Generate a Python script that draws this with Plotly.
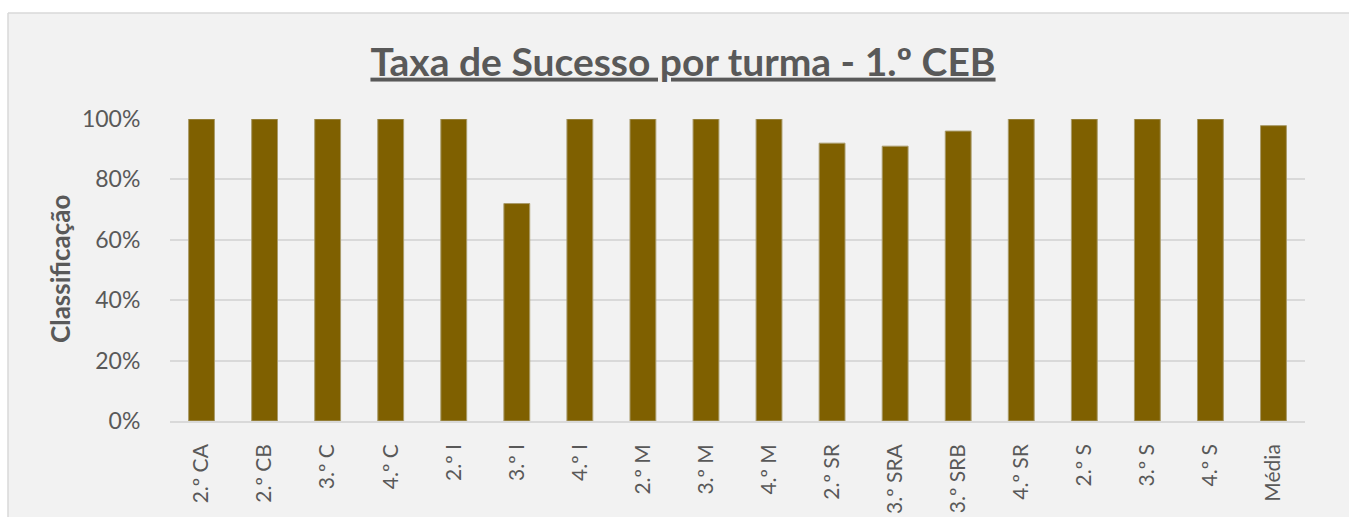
import plotly.graph_objects as go

categories = ["2.º CA", "2.º CB", "3.º C", "4.º C", "2.º I", "3.º I", "4.º I",
              "2.º M", "3.º M", "4.º M", "2.º SR", "3.º SRA", "3.º SRB", "4.º SR",
              "2.º S", "3.º S", "4.º S", "Média"]
values = [1.00, 1.00, 1.00, 1.00, 1.00, 0.72, 1.00, 1.00, 1.00, 1.00,
          0.92, 0.91, 0.96, 1.00, 1.00, 1.00, 1.00, 0.978]
y_ticks = [0, 0.2, 0.4, 0.6, 0.8, 1.0]
y_tick_labels = ["0%", "20%", "40%", "60%", "80%", "100%"]

W, H = 1349, 517
L, R, T, B = 170, 44, 119, 96
pw, ph = W - L - R, H - T - B

FONT = "Lato"
GRAY = "#595959"
BORDER = "#D9D9D9"

fig = go.Figure(go.Bar(
    x=categories, y=values,
    marker=dict(color="#7F6000", line=dict(color="#A99B6A", width=1)),
    width=0.41,
))

fx0 = (8 - L) / pw
fx1 = (W + 30 - L) / pw
fy0 = -(B + 10) / ph
fy1 = 1 + (T - 13) / ph

fig.update_layout(
    width=W, height=H,
    margin=dict(l=L, r=R, t=T, b=B, autoexpand=False),
    paper_bgcolor="white",
    plot_bgcolor="rgba(0,0,0,0)",
    showlegend=False,
    title=dict(
        text="<b>Taxa de Sucesso por turma - 1.º CEB</b>",
        x=683 / W, xanchor="center",
        y=1 - 62 / H, yanchor="middle",
        xref="container", yref="container",
        font=dict(family=FONT, size=39, color=GRAY, lineposition="under"),
    ),
    xaxis=dict(
        tickangle=-90,
        tickfont=dict(family=FONT, size=21, color=GRAY),
        showgrid=False,
        showline=True, linecolor=BORDER, linewidth=1.5,
        ticks="outside", ticklen=13, tickcolor="rgba(0,0,0,0)",
        range=[-0.5, len(categories) - 0.5],
        fixedrange=True,
    ),
    yaxis=dict(
        range=[0, 1.0], autorange=False,
        tickvals=y_ticks, ticktext=y_tick_labels,
        tickfont=dict(family=FONT, size=23, color=GRAY),
        showgrid=True, gridcolor=BORDER, gridwidth=1.5,
        zeroline=False,
        ticks="outside", ticklen=24, tickcolor="rgba(0,0,0,0)",
        fixedrange=True,
    ),
    shapes=[
        dict(type="rect", xref="paper", yref="paper", layer="below",
             x0=fx0, x1=fx1, y0=fy0, y1=fy1,
             fillcolor="#F2F2F2", line=dict(width=0)),
        dict(type="line", xref="paper", yref="paper", layer="below",
             x0=fx0, x1=fx0, y0=fy0, y1=fy1,
             line=dict(color=BORDER, width=1.5)),
        dict(type="line", xref="paper", yref="paper", layer="below",
             x0=fx0, x1=fx1, y0=fy1, y1=fy1,
             line=dict(color=BORDER, width=1.5)),
    ],
    annotations=[
        dict(text="<b>Classificação</b>", textangle=-90,
             xref="paper", yref="paper",
             x=(60 - L) / pw, y=1 - (269 - T) / ph,
             xanchor="center", yanchor="middle", showarrow=False,
             font=dict(family=FONT, size=26, color=GRAY)),
    ],
)

fig.write_html(
    "out.html",
    config={"displayModeBar": False},
    post_script="document.body.style.margin='0';document.body.style.overflow='hidden';",
)
